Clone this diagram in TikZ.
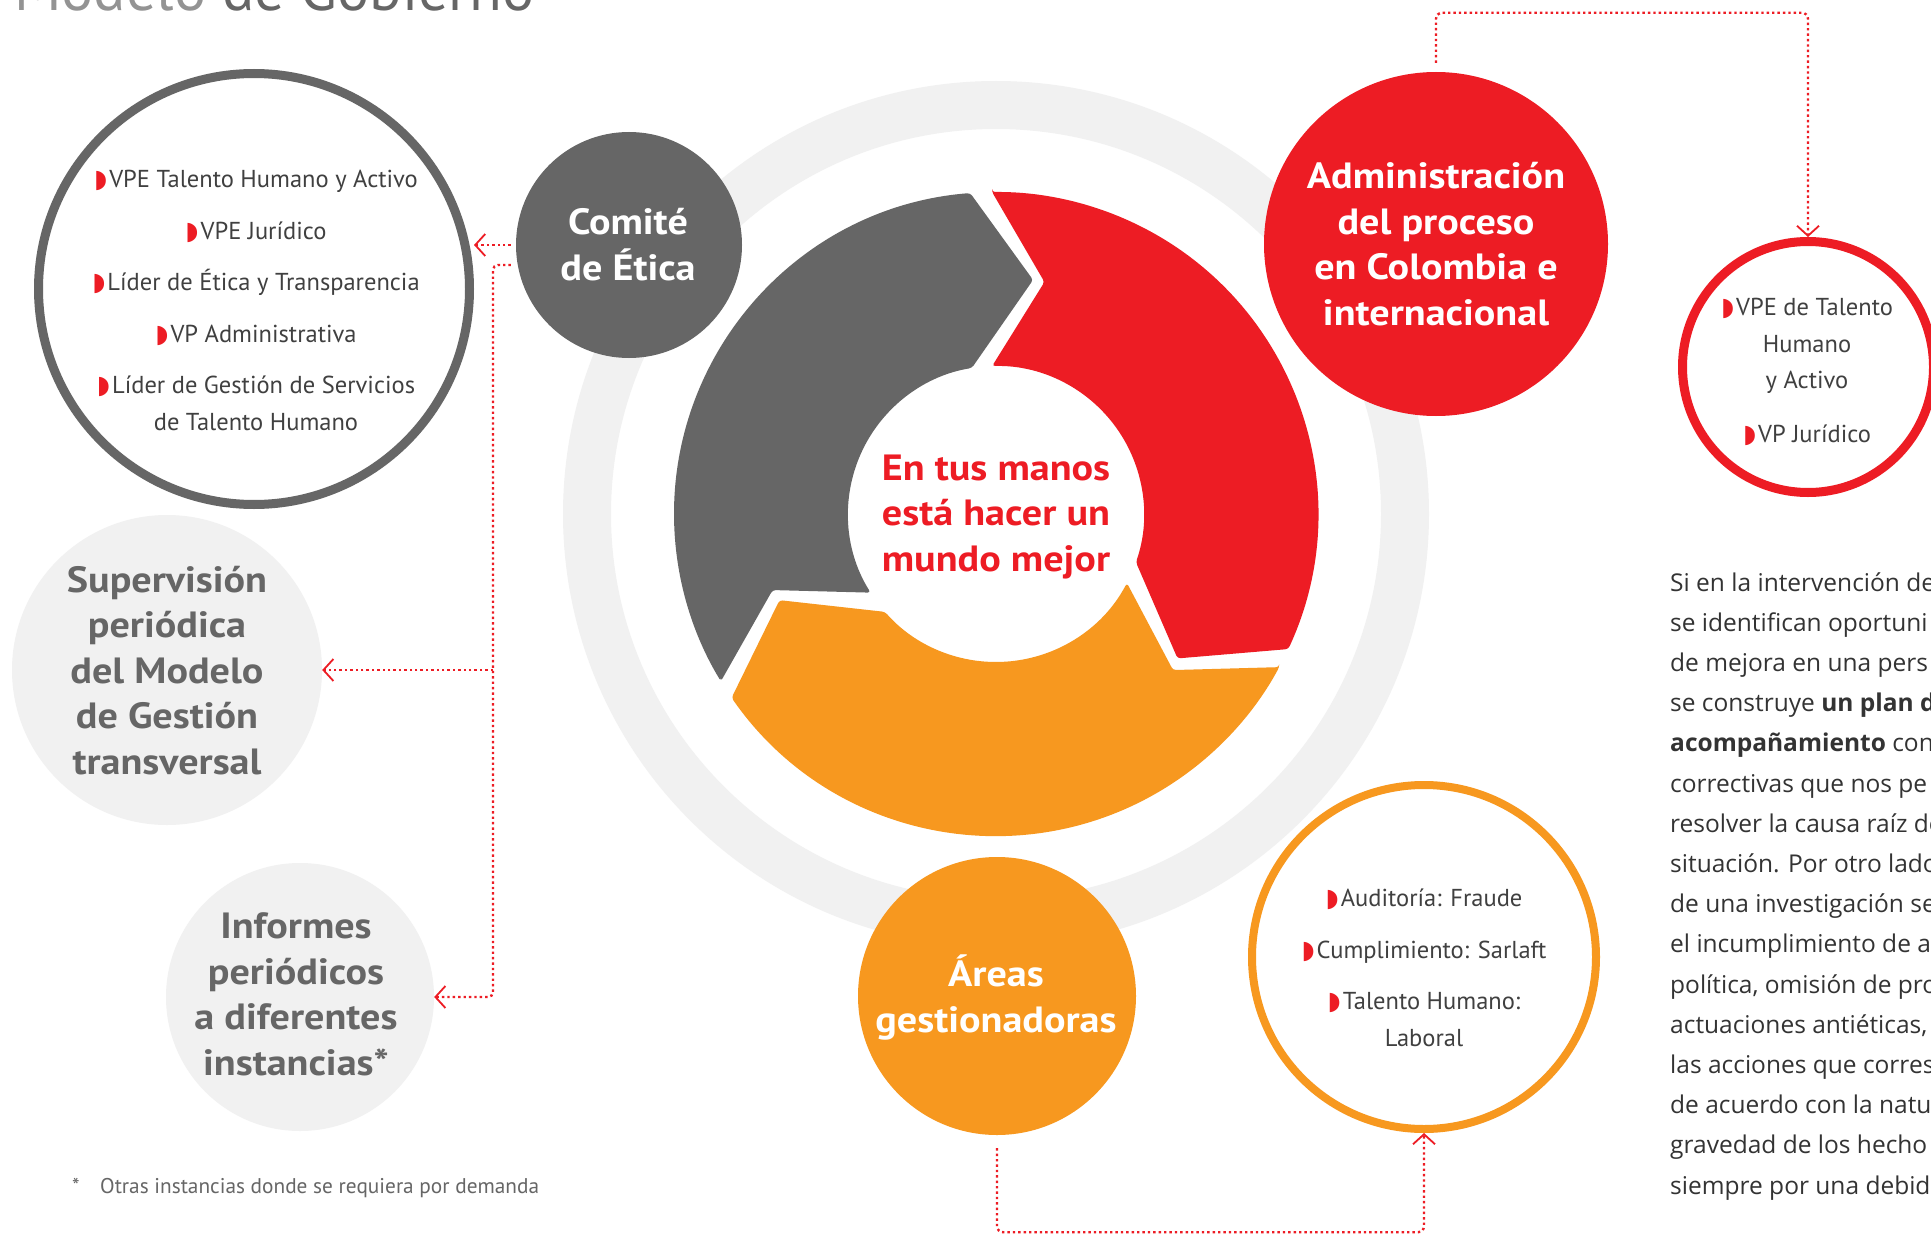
\documentclass[tikz,border=0pt]{standalone}
\usepackage{fontspec}
\setmainfont{PT Sans}
\newfontfamily\lblfont[FakeStretch=1.1]{PT Sans}
\newfontfamily\parafont{Open Sans}
\newfontfamily\symfont{DejaVu Sans}
\usetikzlibrary{arrows.meta,calc}
\definecolor{dgray}{HTML}{666666}
\definecolor{ered}{HTML}{ED1C24}
\definecolor{eorange}{HTML}{F7981F}
\definecolor{lgray}{HTML}{F1F1F1}
\definecolor{txtgray}{HTML}{666666}
\definecolor{itemtxt}{HTML}{404040}
\definecolor{paratxt}{HTML}{333333}
\newcommand{\bul}{{\symfont\fontsize{25}{25}\selectfont\textcolor{ered}{◗}}\hspace{2pt}}
\begin{document}
\begin{tikzpicture}[x=1pt,y=1pt,yscale=-1,
  conn/.style={draw=ered, line width=2.4pt, dash pattern=on 2.4pt off 3pt},
  tipL/.style={-{Straight Barb[length=10pt,width=22pt,line width=1.8pt]}},
  disc/.style={circle, inner sep=0, draw=none},
  ringc/.style={circle, inner sep=0, fill=white},
  lbl/.style={font=\lblfont\fontsize{36.5}{45.5}\selectfont\bfseries, align=center, anchor=base, inner sep=0},
  itm/.style={font=\fontsize{24.5}{36.5}\selectfont, text=itemtxt, align=center, anchor=base, inner sep=0},
  seg/.style={rounded corners=3pt}]
\useasboundingbox (0,0) rectangle (1931,1236);
\fill[white] (0,0) rectangle (1931,1236);

% title (cut at top)
\node[anchor=base west, inner sep=0, font=\fontsize{60}{60}\selectfont, text=txtgray] (title) at (14,11)
  {\textcolor{gray!85}{Modelo} de Gobierno};

% light ring
\coordinate (C) at (996,514);
\draw[lgray, line width=48pt] (C) circle[radius=409];

% donut segments
\begin{scope}[shift={(996,514)}]
\fill[dgray, seg] (148.7:322) -- (161.2:236) -- (147.9:148) arc[start angle=147.9, end angle=260.6, radius=148]
   -- (279:237) -- (265.4:322) arc[start angle=265.4, end angle=148.7, radius=322] -- cycle;
\fill[ered, seg] (269.3:322) -- (281.8:237) -- (268.5:148) arc[start angle=268.5, end angle=379, radius=148]
   -- (398.5:232) -- (384.8:322) arc[start angle=384.8, end angle=269.3, radius=322] -- cycle;
\fill[eorange, seg] (28.4:322) -- (41.4:236) -- (27.8:148) arc[start angle=27.8, end angle=138.6, radius=148]
   -- (158.3:233) -- (145.2:322) arc[start angle=145.2, end angle=28.4, radius=322] -- cycle;
\end{scope}
\node[lbl, text=ered] (ctext) at (996,571) {En tus manos\\está hacer un\\mundo mejor};

% filled circles
\node[disc, fill=dgray, minimum size=226] (comite) at (629,245) {};
\node[disc, fill=ered, minimum size=344] (admin) at (1436,244) {};
\node[disc, fill=eorange, minimum size=278] (areas) at (997,996) {};
\node[disc, fill=lgray, minimum size=310] (sup) at (167,670) {};
\node[disc, fill=lgray, minimum size=268] (info) at (300,997) {};

% outlined circles
\node[ringc, draw=dgray, line width=9pt, minimum size=431] (lc) at (254,289) {};
\node[ringc, draw=ered, line width=9pt, minimum size=251] (rc) at (1808,367) {};
\node[ringc, draw=eorange, line width=8pt, minimum size=344] (oc) at (1424,957) {};

% labels in filled circles (anchor = baseline of last line)
\node[lbl, text=white] (comiteL) at (628,280) {Comité\\de Ética};
\node[lbl, text=white] (adminL) at (1436,325) {Administración\\del proceso\\en Colombia e\\internacional};
\node[lbl, text=white] (areasL) at (996,1032) {Áreas\\gestionadoras};
\node[lbl, text=txtgray] (supL) at (167,774) {Supervisión\\periódica\\del Modelo\\de Gestión\\transversal};
\node[lbl, text=txtgray] (infoL) at (296,1075) {Informes\\periódicos\\a diferentes\\instancias*};

% bullet lists
\node[itm] (lcL) at (256,430) {\bul VPE Talento Humano y Activo\\[15pt]\bul VPE Jurídico\\[15pt]\bul Líder de Ética y Transparencia\\[15pt]\bul VP Administrativa\\[15pt]\bul Líder de Gestión de Servicios\\de Talento Humano};
\node[itm] (rcL) at (1807,442) {\bul VPE de Talento\\Humano\\y Activo\\[17pt]\bul VP Jurídico};
\node[itm] (ocL) at (1424,1046) {\bul Auditoría: Fraude\\[15pt]\bul Cumplimiento: Sarlaft\\[15pt]\bul Talento Humano:\\Laboral};

% connectors
\coordinate (jT) at (493,265);
\draw[conn, tipL] ($(comite.west)+(-5,0)$) -- (lc.east |- comite.west);
\draw[conn, tipL, rounded corners=5pt] ($(comite.west)+(-5,20)$) -- (jT) |- (info.east);
\draw[conn, tipL] (jT |- sup.east) -- (sup.east);
\draw[conn, tipL, rounded corners=6pt] ($(admin.north)+(0,-9)$) -- ++(0,-50) -| (rc.north);
\draw[conn, tipL, rounded corners=6pt] ($(areas.south)+(0,13)$) -- ++(0,84) -| (oc.south);

% footnote
\node[anchor=base west, inner sep=0, font=\fontsize{21.3}{22}\selectfont, text=txtgray] (fn) at (72,1193)
  {\makebox[28pt][l]{*}Otras instancias donde se requiera por demanda};

% paragraph (cut at right edge)
\node[anchor=base west, inner sep=0, align=left, text=paratxt, font=\parafont\fontsize{24.5}{40.2}\selectfont] (para) at (1670,1194)
  {Si en la intervención de\\
   se identifican oportuni\\
   de mejora en una pers\\
   se construye \textbf{un plan d}\\
   \textbf{acompañamiento} con\\
   correctivas que nos pe\\
   resolver la causa raíz de\\
   situación. Por otro lado\\
   de una investigación se\\
   el incumplimiento de a\\
   política, omisión de pro\\
   actuaciones antiéticas,\\
   las acciones que corres\\
   de acuerdo con la natu\\
   gravedad de los hecho\\
   siempre por una debid};
\end{tikzpicture}
\end{document}
